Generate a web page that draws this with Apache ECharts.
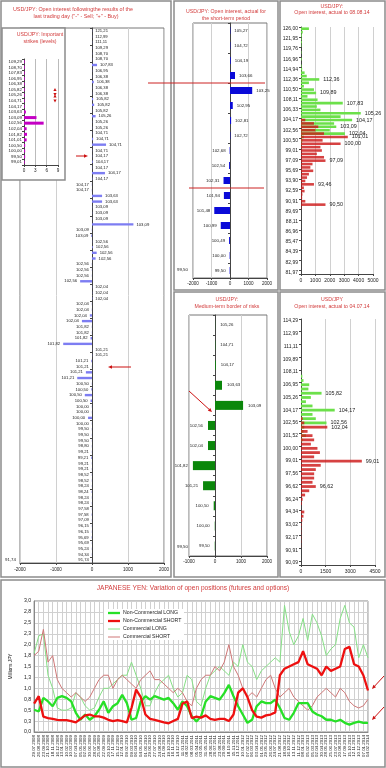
<!DOCTYPE html>
<html><head><meta charset="utf-8">
<script src="https://cdn.jsdelivr.net/npm/echarts/dist/echarts.min.js"></script>
<style>html,body{margin:0;padding:0;background:#fff}#c{width:386px;height:768px}</style>
</head><body><div id="c"></div><script>
const FONT = 'Arial, "Liberation Sans", sans-serif';

// ---- Left main panel: open interest following last trading day ----
const mainStrikes = ['121,21','112,99','111,11','109,29','108,70','108,70','107,83','106,95','106,38','106,38','106,38','106,38','105,82','105,82','105,82','105,26','105,26','105,26','104,71','104,71','104,71','104,71','104,17','104,17','104,17','104,17','104,17','104,17','104,17','103,63','103,63','103,09','103,09','103,09','103,09','103,09','103,09','102,56','102,56','102,56','102,56','102,56','102,56','102,56','102,56','102,04','102,04','102,04','102,04','102,04','102,04','102,04','101,82','101,82','101,82','101,82','101,21','101,21','101,21','101,21','101,21','101,21','100,50','100,50','100,50','100,50','100,00','100,00','100,00','100,00','99,50','99,50','99,50','98,80','99,21','99,21','99,21','99,21','98,52','98,52','98,24','98,24','98,24','98,24','97,58','97,58','97,09','96,15','96,15','95,69','95,69','95,24','94,34','91,74'];
const mainOI = [5,5,5,5,5,5,140,5,5,50,5,5,30,60,5,100,5,5,5,30,390,5,5,20,5,360,10,-5,-5,280,280,5,5,5,1150,-5,-20,5,20,130,100,-5,-5,-5,-330,5,5,10,-5,-5,-60,-280,-5,-5,-40,-800,5,5,-20,-5,-170,-410,-5,-20,-200,-40,-5,-5,-110,-5,-5,-5,-5,-5,-5,-20,-5,-5,-5,-5,-5,-10,-5,-5,-5,-10,-5,-5,-5,-10,-5,-5,-5,-5];

// ---- Inset: important strikes ----
const insetStrikes = ['109,29','108,70','107,83','106,95','106,38','105,82','105,26','104,71','104,17','103,63','103,09','102,56','102,04','101,82','101,01','100,50','100,00','99,50','99,01'];
const insetVals = [0.2,0.2,0.2,0.2,0.2,0.2,0.2,0.2,0.2,0.5,3.3,5.2,0.7,0.8,0.7,0.3,0.3,0.3,0.2];

// ---- Short-term period ----
const shortStrikes = ['105,27','104,72','104,19','103,66','103,25','102,95','102,81','102,72','102,68','102,54','102,31','101,94','101,48','100,99','100,49','100,00','99,50'];
const shortOI = [20,20,40,270,1200,150,60,20,-20,-50,-350,-330,-850,-500,-50,-20,-20];

// ---- Medium-term border of risks ----
const medStrikes = ['105,26','104,71','104,17','103,63','103,09','102,56','102,04','101,82','101,21','100,50','100,00','99,50'];
const medOI = [5,10,30,270,1080,-270,-270,-850,-460,-50,-10,-10];

// ---- Open interest actual to 08.08.14 ----
const augStrikes = ['126,00','125,00','123,46','121,95','121,21','120,48','119,76','119,05','117,65','116,96','116,28','115,61','114,94','113,64','112,99','112,36','111,73','111,11','110,50','109,89','109,29','108,11','107,83','106,95','106,33','105,26','104,71','104,17','103,63','103,09','102,56','102,04','101,01','100,50','100,00','99,50','99,01','98,52','98,04','97,09','96,62','96,15','95,69','95,24','94,79','93,90','93,46','93,02','92,59','92,17','91,74','90,91','90,50','90,09','89,69','89,29','88,89','88,11','87,72','87,34','86,96','86,58','86,21','85,47','85,11','84,75','84,39','84,03','83,68','82,99','82,64','82,30','81,97'];
const augCalls = [550,120,60,40,60,30,0,30,0,50,0,40,80,250,400,1270,550,200,900,1050,450,1150,2900,1100,1350,4150,2750,3550,2300,2450,2000,3050,200,100,50,30,0,0,0,0,0,0,0,0,0,0,0,0,0,0,0,0,0,0,0,0,0,0,0,0,0,0,0,0,0,0,0,0,0,0,0,0,0];
const augPuts = [0,0,0,0,0,0,0,0,0,0,0,0,0,0,0,0,0,0,0,0,0,0,0,0,0,0,0,300,900,1200,1000,1600,3250,1500,2750,1350,1450,1100,1600,1700,800,650,850,550,420,300,900,200,250,100,80,300,1700,30,0,0,0,0,0,0,0,0,0,0,0,0,0,0,0,0,0,0,0];
const augCallLabels = ['112,36','109,89','107,83','105,26','104,17','103,09','102,04'];
const augPutLabels = ['101,01','100,00','97,09','93,46','90,50'];

// ---- Open interest actual to 04.07.14 ----
const julStrikes = ['114,29','113,64','113,31','112,99','112,36','111,73','111,11','110,50','110,19','109,89','109,29','108,70','108,11','107,53','107,24','106,95','106,38','105,82','105,26','104,99','104,71','104,17','103,63','103,09','102,56','102,04','101,78','101,52','101,01','100,50','100,00','99,50','99,26','99,01','98,52','98,04','97,56','97,09','96,85','96,62','96,53','96,39','96,24','95,69','95,24','94,34','93,90','93,46','93,02','92,81','92,59','92,17','91,74','91,32','90,91','90,70','90,50','90,09'];
const julCalls = [0,0,0,0,0,0,0,0,0,0,0,0,0,80,150,500,450,1250,600,300,700,2050,700,900,1550,200,150,300,100,0,0,0,0,0,0,0,0,0,0,0,0,0,0,0,0,0,0,0,0,0,0,0,0,0,0,0,0,0];
const julPuts = [0,0,0,0,0,0,0,0,0,0,0,0,0,0,0,0,0,0,0,0,0,0,0,100,200,1600,400,700,800,600,1000,1150,800,3700,1200,900,800,800,700,900,500,250,100,50,0,200,150,80,40,30,20,20,20,10,0,0,0,0];
const julCallLabels = ['105,82','104,17','102,56'];
const julPutLabels = ['102,04','99,01','96,62'];

// ---- Japanese yen: variation of open positions ----
const cotStart = Date.UTC(2008, 6, 29);
const cotStepDays = 28;
const ncLong = [0.51,0.47,0.78,0.70,0.59,0.78,0.82,0.78,0.70,0.44,0.28,0.40,0.28,0.36,0.51,0.70,0.44,0.59,0.66,0.85,0.66,0.28,0.32,0.70,0.82,0.74,0.82,0.78,0.74,0.78,0.66,0.51,0.70,0.59,0.36,0.24,0.36,0.70,0.82,0.78,0.74,0.89,1.08,0.82,0.59,0.40,0.21,0.28,0.59,0.70,0.66,0.66,0.74,0.55,0.32,0.28,0.44,0.66,0.66,0.66,0.47,0.40,0.36,0.28,0.28,0.24,0.28,0.21,0.17,0.21,0.24,0.21,0.21];
const ncShort = [0.65,0.82,0.35,0.32,0.30,0.28,0.27,0.27,0.25,0.22,0.30,0.38,0.40,0.36,0.36,0.33,0.28,0.25,0.27,0.25,0.22,0.55,0.97,0.80,0.40,0.30,0.28,0.25,0.22,0.20,0.25,0.30,0.65,0.70,0.32,0.35,0.33,0.38,0.30,0.28,0.30,0.30,0.25,0.40,0.90,1.00,0.80,0.50,0.35,0.33,0.38,0.40,0.45,1.30,1.45,1.50,1.55,1.60,1.85,1.55,1.50,1.45,1.30,1.50,1.40,1.45,1.50,1.90,1.95,1.55,1.50,1.30,0.95];
const cLong = [1.8,2.2,2.25,1.3,1.0,0.55,0.5,0.5,0.55,0.9,0.8,0.6,0.5,0.55,0.8,1.0,1.0,1.1,1.2,1.3,1.3,1.6,1.3,1.0,0.6,0.6,0.9,1.1,1.2,1.3,1.0,0.8,0.9,1.3,1.2,0.7,0.6,1.0,1.3,1.4,1.5,1.4,1.3,1.6,1.5,2.0,1.6,1.5,1.2,1.4,1.5,1.6,1.7,1.6,2.9,2.3,2.0,2.2,2.6,2.1,2.7,2.5,2.2,1.75,1.9,2.0,2.6,2.9,2.5,2.4,1.7,2.0,1.7];
const cShort = [1.75,1.85,2.35,1.6,1.75,1.2,1.0,0.9,0.8,0.9,0.8,0.7,0.8,1.0,1.2,1.3,1.3,1.0,1.2,1.3,1.2,1.1,1.0,1.2,1.3,1.4,1.2,1.2,1.1,1.0,0.9,1.0,0.9,0.7,0.6,1.0,1.2,1.3,1.3,1.5,1.4,1.6,2.0,1.5,1.3,1.0,0.8,0.9,0.8,1.0,1.2,1.3,1.0,0.8,0.9,1.0,0.8,0.7,0.6,0.5,0.6,0.8,0.9,1.0,0.9,0.8,1.0,0.9,0.7,0.6,0.55,0.6,0.75];
const seriesNames = ['Non-Commercial LONG','Non-Commercial SHORT','Commercial LONG','Commercial SHORT'];

function pad(n){return (n<10?'0':'')+n;}
const cotDates = ncLong.map((_, i) => {
  const d = new Date(cotStart + i * cotStepDays * 86400000);
  return pad(d.getUTCDate()) + '.' + pad(d.getUTCMonth()+1) + '.' + d.getUTCFullYear();
});

const TITLE = '#D23C3C', GRID = '#d0d0d0', AX = '#444';
const plain = v => String(v);

function signedItems(names, vals){
  return vals.map((v, i) => ({value: v, name: names[i], label: {position: v < 0 ? 'left' : 'right'}}));
}
function labeledItems(names, vals, labels){
  return vals.map((v, i) => ({value: v, name: names[i], label: {show: labels.indexOf(names[i]) >= 0 && v > 0}}));
}
function valAxis(gi, min, max, iv, extra){
  return Object.assign({type:'value', gridIndex: gi, min, max, interval: iv,
    axisLabel:{fontSize:4.6, color:'#222', margin:3, fontFamily:FONT, formatter: plain},
    axisLine:{show:true, lineStyle:{color:AX, width:1}},
    axisTick:{show:true, length:2, lineStyle:{color:AX}},
    splitLine:{show:true, lineStyle:{color:GRID, width:1}}}, extra||{});
}
function catAxis(gi, data, extra){
  return Object.assign({type:'category', gridIndex: gi, data, inverse:true,
    axisLabel:{show:false},
    axisLine:{show:true, onZero:true, lineStyle:{color:AX, width:1}},
    axisTick:{show:true, length:2, lineStyle:{color:AX}},
    splitLine:{show:false}}, extra||{});
}

const grids = [
  {left:20, top:28, width:144, height:535, show:true, borderColor:'#777', borderWidth:1},
  {left:24, top:59, width:34, height:106, z:4},
  {left:193, top:23, width:74, height:255, show:true, borderColor:'#777', borderWidth:1},
  {left:301, top:27, width:72, height:247},
  {left:189, top:315, width:78, height:241, show:true, borderColor:'#777', borderWidth:1},
  {left:301, top:319, width:74, height:246},
  {left:23, top:601, width:345, height:131, show:true, borderColor:'#888', borderWidth:1}
];

const xAxes = [
  valAxis(0, -2000, 2000, 1000, {axisLabel:{fontSize:4.6, color:'#222', margin:4, formatter: plain}}),
  valAxis(1, 0, 9, 3, {z:4, splitLine:{show:true, lineStyle:{color:'#bbb'}}}),
  valAxis(2, -2000, 2000, 1000),
  valAxis(3, 0, 5000, 1000, {axisLabel:{fontSize:5, color:'#222', margin:4, formatter: plain}}),
  valAxis(4, -1000, 2000, 1000),
  valAxis(5, 0, 4500, 1500, {axisLabel:{fontSize:5, color:'#222', margin:4, formatter: plain}}),
  {type:'category', gridIndex:6, data: cotDates, boundaryGap:false,
   axisLabel:{rotate:90, fontSize:4.4, interval:0, color:'#222', margin:3, fontFamily:FONT},
   axisLine:{show:true, lineStyle:{color:'#888'}}, axisTick:{show:false},
   splitLine:{show:true, interval:0, lineStyle:{color:GRID, width:1}}}
];

const yAxes = [
  catAxis(0, mainStrikes),
  catAxis(1, insetStrikes, {z:4, axisLabel:{show:true, interval:0, fontSize:4.4, color:'#222', margin:2, fontFamily:FONT}, axisTick:{show:true, interval:0, length:2}, axisLine:{show:true, onZero:false, lineStyle:{color:AX}}}),
  catAxis(2, shortStrikes),
  catAxis(3, augStrikes, {axisLabel:{show:true, interval:2, fontSize:5, color:'#222', margin:3, fontFamily:FONT}, axisTick:{show:true, interval:2, length:2}, axisLine:{show:true, onZero:false, lineStyle:{color:AX}}}),
  catAxis(4, medStrikes),
  catAxis(5, julStrikes, {axisLabel:{show:true, interval:2, fontSize:5, color:'#222', margin:3, fontFamily:FONT}, axisTick:{show:true, interval:2, length:2}, axisLine:{show:true, onZero:false, lineStyle:{color:AX}}}),
  {type:'value', gridIndex:6, min:0, max:3, interval:0.25,
   name:'Millions JPY', nameLocation:'middle', nameGap:14, nameRotate:90,
   nameTextStyle:{fontSize:4.8, color:'#222', fontFamily:FONT},
   axisLabel:{fontSize:5.2, color:'#222', margin:3, fontFamily:FONT, formatter: v => v.toFixed(1).replace('.', ',')},
   axisLine:{show:true, lineStyle:{color:'#888'}}, axisTick:{show:false},
   splitLine:{show:true, lineStyle:{color:GRID}}}
];

const barLabel = (fs, dist) => ({show:true, formatter: p => p.name, fontSize: fs, color:'#222', distance: dist, fontFamily: FONT});
const sideLabel = {show:false, position:'right', formatter: p => p.name, fontSize:5.4, color:'#222', distance:4, fontFamily:FONT};

const series = [
  {type:'bar', xAxisIndex:0, yAxisIndex:0, barWidth:2.4, itemStyle:{color:'#7D7DF2'},
   label: barLabel(4.2, 3), data: signedItems(mainStrikes, mainOI)},
  {type:'bar', xAxisIndex:1, yAxisIndex:1, barWidth:3, z:5, itemStyle:{color:'#C400C4'},
   label:{show:false}, data: insetVals},
  {type:'bar', xAxisIndex:2, yAxisIndex:2, barWidth:7, itemStyle:{color:'#0A0AD8'},
   label: barLabel(4.4, 4), data: signedItems(shortStrikes, shortOI)},
  {type:'bar', xAxisIndex:3, yAxisIndex:3, barWidth:2.6, barGap:'-100%', itemStyle:{color:'#6CE04A'},
   label: sideLabel, data: labeledItems(augStrikes, augCalls, augCallLabels)},
  {type:'bar', xAxisIndex:3, yAxisIndex:3, barWidth:2.6, barGap:'-100%', itemStyle:{color:'rgba(205,25,25,0.82)'},
   label: sideLabel, data: labeledItems(augStrikes, augPuts, augPutLabels)},
  {type:'bar', xAxisIndex:4, yAxisIndex:4, barWidth:9, itemStyle:{color:'#0B870B'},
   label: barLabel(4.3, 5), data: signedItems(medStrikes, medOI)},
  {type:'bar', xAxisIndex:5, yAxisIndex:5, barWidth:2.8, barGap:'-100%', itemStyle:{color:'#6CE04A'},
   label: sideLabel, data: labeledItems(julStrikes, julCalls, julCallLabels)},
  {type:'bar', xAxisIndex:5, yAxisIndex:5, barWidth:2.8, barGap:'-100%', itemStyle:{color:'rgba(205,25,25,0.82)'},
   label: sideLabel, data: labeledItems(julStrikes, julPuts, julPutLabels)},
  {type:'line', name:seriesNames[2], xAxisIndex:6, yAxisIndex:6, data:cLong, showSymbol:false, lineStyle:{color:'#86E086', width:1}, z:2},
  {type:'line', name:seriesNames[3], xAxisIndex:6, yAxisIndex:6, data:cShort, showSymbol:false, lineStyle:{color:'#CF7777', width:1}, z:2},
  {type:'line', name:seriesNames[0], xAxisIndex:6, yAxisIndex:6, data:ncLong, showSymbol:false, lineStyle:{color:'#27E027', width:2.3}, z:3},
  {type:'line', name:seriesNames[1], xAxisIndex:6, yAxisIndex:6, data:ncShort, showSymbol:false, lineStyle:{color:'#EE1010', width:2.3}, z:3}
];

function txt(x, y, t, fs, fill, align){
  return {type:'text', x, y, z:10, style:{text:t, fill: fill||TITLE, font: fs+'px '+FONT, align: align||'center', verticalAlign:'middle'}};
}
function box(x, y, w, h, fill, z){
  return {type:'rect', z: z||1, shape:{x, y, width:w, height:h}, style:{fill: fill||'none', stroke:'#8c8c8c', lineWidth:1.5}};
}
function ln(x1, y1, x2, y2, c, w){
  return {type:'line', z:10, shape:{x1, y1, x2, y2}, style:{stroke:c||'#CC1111', lineWidth:w||1}};
}
function arrow(x1, y1, x2, y2, c){
  const a = Math.atan2(y2-y1, x2-x1), L = 4, W = 1.8;
  const bx = x2 - L*Math.cos(a), by = y2 - L*Math.sin(a);
  const px = -Math.sin(a)*W, py = Math.cos(a)*W;
  return [ln(x1, y1, bx, by, c||'#CC1111', 1),
    {type:'polygon', z:10, shape:{points:[[x2,y2],[bx+px,by+py],[bx-px,by-py]]}, style:{fill:c||'#CC1111'}}];
}
function tri(x, y, up){
  return {type:'polygon', z:10, shape:{points: up ? [[x,y-2],[x-1.6,y+1],[x+1.6,y+1]] : [[x,y+2],[x-1.6,y-1],[x+1.6,y-1]]}, style:{fill:'#CC1111'}};
}

const graphic = [
  box(1, 1, 170, 576), box(174, 1, 104, 289), box(280, 1, 105, 289),
  box(174, 292, 104, 285), box(280, 292, 105, 285), box(1, 580, 384, 187),
  box(2, 28, 63, 152, '#fff', 3),
  txt(73, 10, 'USD/JPY: Open interest followingthe results of the', 5.4),
  txt(76, 16.5, 'last trading day ("-" - Sell; "+" - Buy)', 5.4),
  txt(40, 35, 'USD/JPY: Important', 5.2), txt(40, 41.5, 'strikes (levels)', 5.2),
  txt(226, 12, 'USD/JPY: Open interest, actual for', 5.2), txt(226, 18.5, 'the short-term period', 5.2),
  txt(332, 6.5, 'USD/JPY:', 5.2), txt(332, 13, 'Open interest, actual to 08.08.14', 5.2),
  txt(227, 300, 'USD/JPY:', 5.2), txt(227, 307, 'Medium-term border of risks', 5.2),
  txt(332, 299.5, 'USD/JPY', 5.2), txt(332, 307, 'Open interest, actual to 04.07.14', 5.2),
  txt(193, 588, 'JAPANESE YEN: Variation of open positions (futures and options)', 6.6),
  txt(5, 559.5, '91,74', 4.4, '#222', 'left'),
  txt(177, 270, '99,50', 4.4, '#222', 'left'),
  txt(177, 547, '99,50', 4.4, '#222', 'left'),
  ln(148, 83, 265, 83, '#CC2222', 1), ln(189, 188, 264, 188, '#CC2222', 1),
  tri(55, 90, true), tri(55, 94, false), tri(55, 96.5, true), tri(55, 100.5, false),
  {type:'rect', z:3, shape:{x:104, y:609, width:80, height:31}, style:{fill:'#fff'}},
  ln(108, 613, 120, 613, '#27E027', 2.3), txt(123, 613, seriesNames[0], 5.2, '#222', 'left'),
  ln(108, 621, 120, 621, '#EE1010', 2.3), txt(123, 621, seriesNames[1], 5.2, '#222', 'left'),
  ln(108, 629, 120, 629, '#86E086', 1), txt(123, 629, seriesNames[2], 5.2, '#222', 'left'),
  ln(108, 637, 120, 637, '#CF7777', 1), txt(123, 637, seriesNames[3], 5.2, '#222', 'left')
].concat(
  arrow(76, 156, 88, 156), arrow(131, 367, 108, 367),
  arrow(189, 391, 212, 412),
  arrow(384, 676, 372, 689), arrow(384, 707, 372, 720)
);

const chart = echarts.init(document.getElementById('c'), null, {renderer:'canvas'});
chart.setOption({
  animation:false, backgroundColor:'#fff',
  textStyle:{fontFamily:FONT},
  grid: grids, xAxis: xAxes, yAxis: yAxes, series, graphic
});
</script></body></html>
